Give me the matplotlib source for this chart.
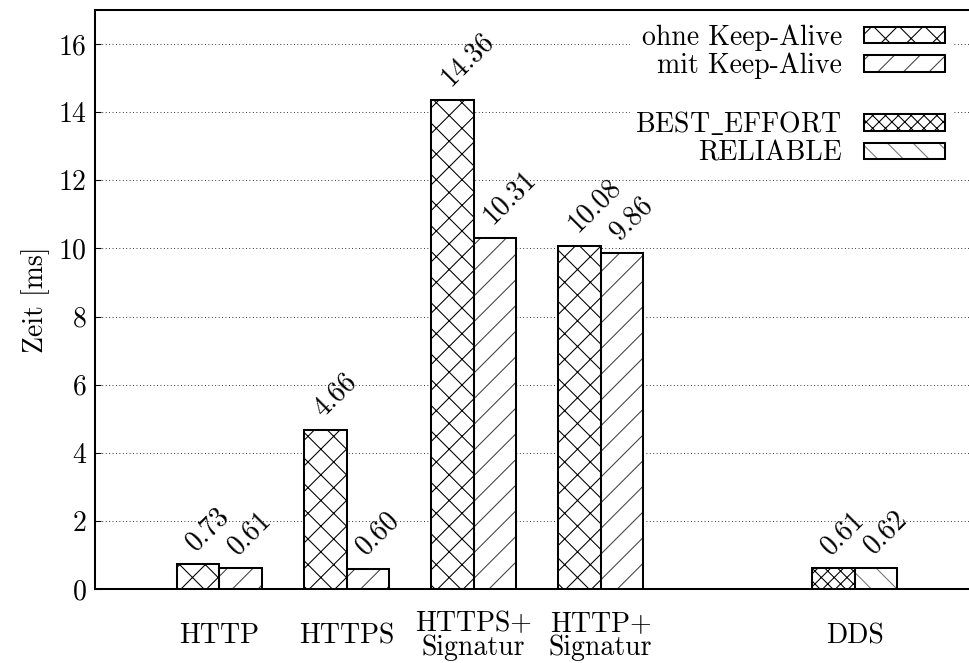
import matplotlib
matplotlib.use('Agg')
import matplotlib.pyplot as plt
import numpy as np
from matplotlib.patches import Patch
from matplotlib.legend_handler import HandlerTuple

plt.rcParams['font.family'] = ['cmr10', 'DejaVu Serif']
plt.rcParams['mathtext.fontset'] = 'cm'
plt.rcParams['axes.formatter.use_mathtext'] = True
plt.rcParams['hatch.linewidth'] = 1.0

# Daten
kategorien = ['HTTP', 'HTTPS', 'HTTPS+\nSignatur', 'HTTP+\nSignatur', 'DDS']
positionen = [0, 1, 2, 3, 5]
ohne_keep_alive = [0.73, 4.66, 14.36, 10.08]
mit_keep_alive = [0.61, 0.60, 10.31, 9.86]
best_effort = [0.61]
reliable = [0.62]
y_ticks = [0, 2, 4, 6, 8, 10, 12, 14, 16]

DPI = 77
FS = 26
LW = 1.9
w = 1 / 3

fig = plt.figure(figsize=(969 / DPI, 663 / DPI), dpi=DPI)
ax = fig.add_axes([95 / 969, 74 / 663, 1 - 95 / 969, 579 / 663])

x_http = np.array(positionen[:4], dtype=float)
x_dds = np.array(positionen[4:], dtype=float)


def balken(x, werte, hatch, hatchfarbe):
    # Schraffur und Rahmen getrennt, damit die Schraffur heller sein kann
    ax.bar(x, werte, w, facecolor='white', edgecolor=hatchfarbe, hatch=hatch, lw=0, zorder=3)
    ax.bar(x, werte, w, facecolor='none', edgecolor='black', lw=LW, zorder=4)
    for xi, v in zip(x, werte):
        ax.annotate(f'{v:.2f}', (xi, v), xytext=(-2.5, 12), textcoords='offset points',
                    rotation=45, rotation_mode='anchor', ha='left', va='baseline',
                    fontsize=FS, zorder=5)


balken(x_http - w / 2, ohne_keep_alive, 'x', 'black')
balken(x_http + w / 2, mit_keep_alive, '/', '#444444')
balken(x_dds - w / 2, best_effort, 'xx', 'black')
balken(x_dds + w / 2, reliable, '\\', '#777777')

ax.set_xlim(-0.98, 5.9)
ax.set_ylim(0, 17)
ax.set_yticks(y_ticks, [str(t) for t in y_ticks], fontsize=FS)
ax.set_xticks(positionen, kategorien, fontsize=FS)
for t in ax.get_xticklabels():
    t.set_va('center')
    t.set_linespacing(0.9)
ax.tick_params(axis='x', length=0, pad=44)
ax.tick_params(axis='y', direction='in', length=5.5, width=1, pad=8)
ax.set_ylabel('Zeit [ms]', fontsize=FS, labelpad=8)

ax.yaxis.grid(True, linestyle=(0, (1, 3)), color='black', lw=0.8)
ax.set_axisbelow(True)
ax.spines['right'].set_visible(False)
for s in ['left', 'top', 'bottom']:
    ax.spines[s].set_linewidth(LW)


def griff(hatch, farbe):
    return (Patch(facecolor='white', edgecolor=farbe, hatch=hatch, lw=0),
            Patch(facecolor='none', edgecolor='black', lw=LW))


handles = [griff('x', 'black'), griff('/', '#444444'),
           Patch(facecolor='none', edgecolor='none'),
           griff('xx', 'black'), griff('\\', '#777777')]
labels = ['ohne Keep-Alive', 'mit Keep-Alive', ' ', r'BEST$\_$EFFORT', 'RELIABLE']
leg = ax.legend(handles, labels, loc='upper right', bbox_to_anchor=(0.979, 0.985),
                markerfirst=False, fontsize=FS,
                handlelength=2.9, handleheight=0.54, handletextpad=0.8,
                labelspacing=0.08, borderpad=0.2, borderaxespad=0,
                fancybox=False, framealpha=1, facecolor='white', edgecolor='white',
                handler_map={tuple: HandlerTuple(ndivide=1, pad=0)})
leg.set_zorder(6)

fig.savefig('out.png', dpi=DPI)
